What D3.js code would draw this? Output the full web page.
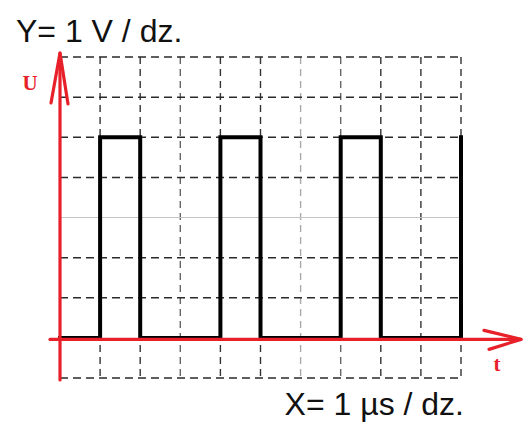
<!DOCTYPE html>
<html>
<head>
<meta charset="utf-8">
<script src="https://cdn.jsdelivr.net/npm/d3@7"></script>
<style>
  html, body { margin: 0; padding: 0; background: #fff; }
  svg { display: block; }
</style>
</head>
<body>
<script>
// Oscilloscope screen: 10 horizontal divisions (1 µs each), 8 vertical (1 V each)
const gridTimes = [0, 1, 2, 3, 4, 5, 6, 7, 8, 9, 10];
const gridVolts = [-1, 0, 1, 2, 3, 4, 5, 6, 7];
const gridShade = ["#333", "#333", "#333", "#666", "#333", "#333", "#aaa", "#666", "#333", "#333", "#333"];

// Square wave: switching instants (µs) and the level held from each one (V)
const edgeTimes = [0, 1, 2, 4, 5, 7, 8, 10];
const edgeVolts = [0, 5, 0, 5, 0, 5, 0, 5];

const scaleTitleY = "Y= 1 V / dz.";
const scaleTitleX = "X= 1 µs / dz.";

const W = 524, H = 423;
const red = "#e8202a";

const x = d3.scaleLinear().domain([0, 10]).range([60, 461]);
const y = d3.scaleLinear().domain([-1, 7]).range([378, 57]);

const svg = d3.select("body").append("svg").attr("width", W).attr("height", H);

// dashed graticule
svg.append("g").selectAll("line").data(gridTimes).join("line")
  .attr("x1", d => x(d)).attr("x2", d => x(d))
  .attr("y1", y(7)).attr("y2", y(-1))
  .attr("stroke", (d, i) => gridShade[i]).attr("stroke-width", 1.4)
  .attr("stroke-dasharray", "7,5");

svg.append("g").selectAll("line").data(gridVolts.filter(v => v !== 0)).join("line")
  .attr("x1", x(0)).attr("x2", x(10))
  .attr("y1", d => y(d)).attr("y2", d => y(d))
  .attr("stroke", d => d === 3 ? "#c4c4c4" : "#2a2a2a")
  .attr("stroke-width", d => d === 3 ? 1.2 : 1.5)
  .attr("stroke-dasharray", d => d === 3 ? null : "8,5");

// signal trace
const trace = d3.line()
  .x(d => x(d[0])).y(d => y(d[1]))
  .curve(d3.curveStepAfter);

svg.append("path")
  .datum(edgeTimes.map((t, i) => [t, edgeVolts[i]]))
  .attr("d", trace)
  .attr("fill", "none")
  .attr("stroke", "#000")
  .attr("stroke-width", 4)
  .attr("stroke-linejoin", "miter")
  .attr("stroke-linecap", "square");

// red axes with open arrowheads
const axes = svg.append("g").attr("stroke", red).attr("fill", "none")
  .attr("stroke-width", 3.2).attr("stroke-linecap", "round");
const y0 = y(0) + 1.5;
axes.append("line").attr("x1", x(0) - 10).attr("x2", x(10) + 60).attr("y1", y0).attr("y2", y0);
axes.append("path").attr("d", `M${x(10) + 23},${y0 - 9} L${x(10) + 60},${y0} L${x(10) + 28},${y0 + 10}`)
  .attr("stroke-linejoin", "round");
axes.append("line").attr("x1", x(0)).attr("x2", x(0)).attr("y1", y(-1) + 2).attr("y2", y(7) - 4);
axes.append("path").attr("d", `M${x(0) - 9},${y(7) + 46} L${x(0)},${y(7) - 4} L${x(0) + 8},${y(7) + 47}`)
  .attr("stroke-linejoin", "round");

// axis names
svg.append("text").attr("x", 30).attr("y", 90)
  .attr("text-anchor", "middle")
  .attr("font-family", "'Liberation Serif', serif").attr("font-weight", "bold")
  .attr("font-size", 21).attr("fill", red).text("U");
svg.append("text").attr("x", 497).attr("y", 371)
  .attr("text-anchor", "middle")
  .attr("font-family", "'Liberation Serif', serif").attr("font-weight", "bold")
  .attr("font-size", 21).attr("fill", red).text("t");

// scale captions
svg.append("text").attr("x", 16).attr("y", 42)
  .attr("font-family", "'Liberation Sans', Arial, sans-serif")
  .attr("font-size", 32).attr("fill", "#111").text(scaleTitleY);
svg.append("text").attr("x", 464).attr("y", 415)
  .attr("text-anchor", "end")
  .attr("font-family", "'Liberation Sans', Arial, sans-serif")
  .attr("font-size", 32).attr("fill", "#111").text(scaleTitleX);
</script>
</body>
</html>
